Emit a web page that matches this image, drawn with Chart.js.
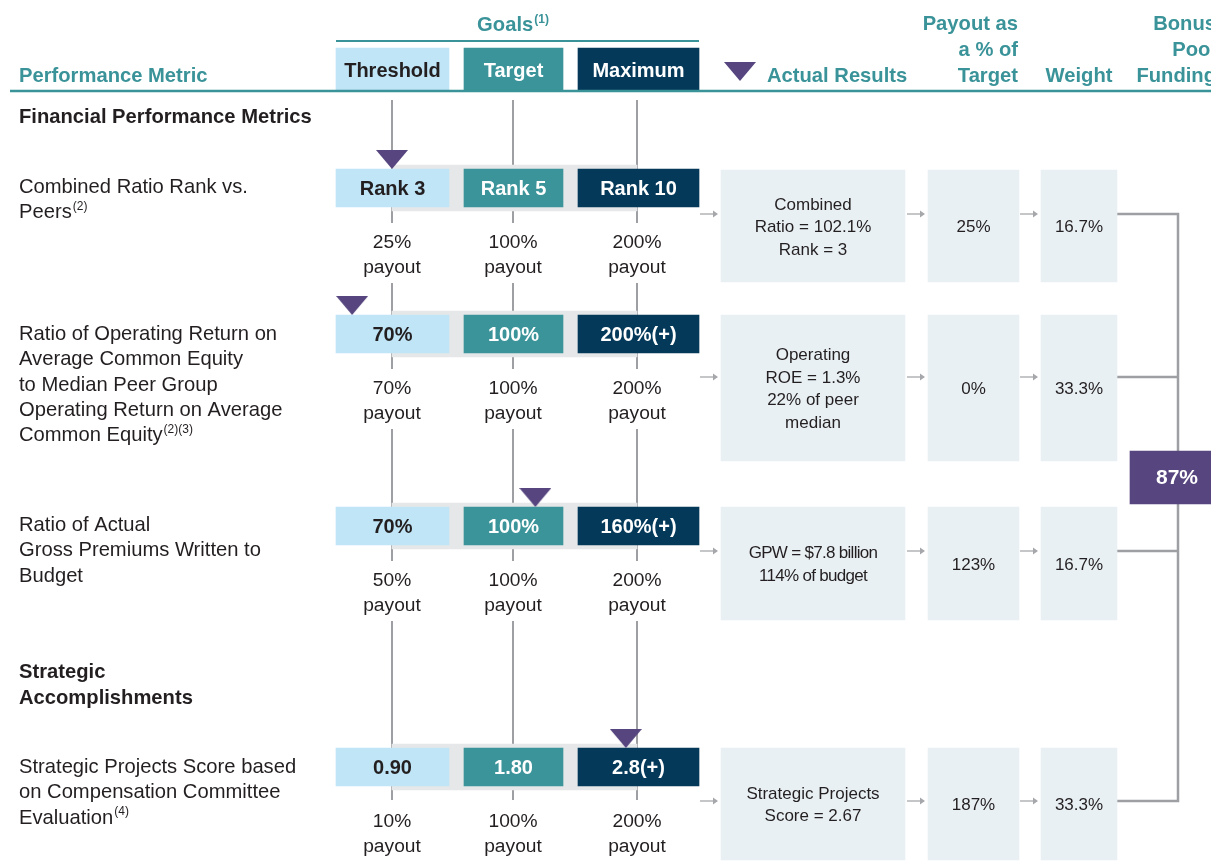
<!DOCTYPE html>
<html>
<head>
<meta charset="utf-8">
<script src="https://cdn.jsdelivr.net/npm/chart.js@4.4.1/dist/chart.umd.min.js"></script>
<style>
  body { margin: 0; background: #fff; }
  canvas { display: block; }
</style>
</head>
<body>
<canvas id="myChart" width="1211" height="862"></canvas>
<script>
// ---- data ----
const metricLabels = [
  ['Combined Ratio Rank vs.', 'Peers'],
  ['Ratio of Operating Return on', 'Average Common Equity', 'to Median Peer Group', 'Operating Return on Average', 'Common Equity'],
  ['Ratio of Actual', 'Gross Premiums Written to', 'Budget'],
  ['Strategic Projects Score based', 'on Compensation Committee', 'Evaluation']
];
const metricNotes = ['(2)', '(2)(3)', '', '(4)'];
const goalLevels = ['Threshold', 'Target', 'Maximum'];
const thresholdGoals = ['Rank 3', '70%', '70%', '0.90'];
const targetGoals = ['Rank 5', '100%', '100%', '1.80'];
const maximumGoals = ['Rank 10', '200%(+)', '160%(+)', '2.8(+)'];
const thresholdPayouts = [25, 70, 50, 10];
const targetPayouts = [100, 100, 100, 100];
const maximumPayouts = [200, 200, 200, 200];
const actualResults = [
  ['Combined', 'Ratio = 102.1%', 'Rank = 3'],
  ['Operating', 'ROE = 1.3%', '22% of peer', 'median'],
  ['GPW = $7.8 billion', '114% of budget'],
  ['Strategic Projects', 'Score = 2.67']
];
// where the actual result sits on the goal scale (0 = threshold, 1 = target, 2 = maximum)
const actualPosition = [0, -0.33, 1.18, 1.91];
const payoutPercent = [25, 0, 123, 187];
const weights = [16.7, 33.3, 16.7, 33.3];
const bonusPoolFunding = 87;

// ---- layout ----
const teal = '#3a9399';
const dark = '#231f20';
const purple = '#56457f';
const goalColors = ['#bfe5f6', '#3a9499', '#04395a'];
const goalTextColors = [dark, '#fff', '#fff'];
const goalCols = [[336, 449], [464, 563], [578, 699]];
const goalLines = [392, 513, 637];
const resultCols = [[721, 905], [928, 1019], [1041, 1117]];
const rowLayout = [
  { boxTop: 169, resTop: 170, resBottom: 282, arrowY: 214, labelY: 186 },
  { boxTop: 315, resTop: 315, resBottom: 461, arrowY: 377, labelY: 333 },
  { boxTop: 507, resTop: 507, resBottom: 620, arrowY: 551, labelY: 524 },
  { boxTop: 748, resTop: 748, resBottom: 860, arrowY: 801, labelY: 766 }
];
const FONT = '"Liberation Sans", Arial, sans-serif';
const TEXT_DY = 1.5;

function goalX(p) {
  if (p <= 1) return goalLines[0] + p * (goalLines[1] - goalLines[0]);
  return goalLines[1] + (p - 1) * (goalLines[2] - goalLines[1]);
}

// triangle marker
const tri = document.createElement('canvas');
tri.width = 32; tri.height = 19;
const tctx = tri.getContext('2d');
tctx.fillStyle = purple;
tctx.beginPath(); tctx.moveTo(0, 0); tctx.lineTo(32, 0); tctx.lineTo(16, 19); tctx.closePath(); tctx.fill();

const goalValues = [thresholdGoals, targetGoals, maximumGoals];
const payoutValues = [thresholdPayouts, targetPayouts, maximumPayouts];

const datasets = [];
datasets.push({
  type: 'scatter', label: 'actual', order: 0, showLine: false,
  data: actualPosition.map((p, i) => ({ x: goalX(p), y: rowLayout[i].boxTop - 9.5 })),
  pointStyle: tri, pointRadius: 10
});
datasets.push({
  label: 'bonus', order: 1, grouped: false, barThickness: 53, backgroundColor: purple,
  data: [{ x: [1130, 1211], y: 477.5 }]
});
goalLevels.forEach((lvl, j) => {
  datasets.push({
    label: lvl, order: 1, grouped: false, barThickness: 38, backgroundColor: goalColors[j],
    data: rowLayout.map(r => ({ x: goalCols[j], y: r.boxTop + 19 }))
  });
});
datasets.push({
  label: 'header', order: 1, grouped: false, barThickness: 43, backgroundColor: goalColors,
  data: goalCols.map(c => ({ x: c, y: 69.5 }))
});
rowLayout.forEach((r, i) => {
  datasets.push({
    label: 'results ' + i, order: 1, grouped: false, barThickness: r.resBottom - r.resTop,
    backgroundColor: '#e9f0f4',
    data: resultCols.map(c => ({ x: c, y: (r.resTop + r.resBottom) / 2 }))
  });
});
datasets.push({
  label: 'range', order: 2, grouped: false, barThickness: 46, backgroundColor: '#e6e7e8',
  data: rowLayout.map(r => ({ x: [goalLines[0], goalLines[2]], y: r.boxTop + 19 }))
});

function text(ctx, s, x, y, font, color, align) {
  ctx.font = font;
  ctx.fillStyle = color;
  ctx.textAlign = align || 'left';
  ctx.textBaseline = 'middle';
  ctx.fillText(s, x, y + TEXT_DY);
}

function arrow(ctx, x1, x2, y) {
  ctx.strokeStyle = '#a5a7aa';
  ctx.fillStyle = '#a5a7aa';
  ctx.lineWidth = 1.3;
  ctx.beginPath(); ctx.moveTo(x1, y); ctx.lineTo(x2 - 4, y); ctx.stroke();
  ctx.beginPath(); ctx.moveTo(x2, y); ctx.lineTo(x2 - 5, y - 3.5); ctx.lineTo(x2 - 5, y + 3.5); ctx.closePath(); ctx.fill();
}

const drawPlugin = {
  id: 'drawPlugin',
  beforeDatasetsDraw(chart) {
    const ctx = chart.ctx;
    const xs = chart.scales.x, ys = chart.scales.y;
    const X = v => xs.getPixelForValue(v), Y = v => ys.getPixelForValue(v);
    ctx.save();
    // goal guide lines, broken around payout text
    ctx.strokeStyle = '#9d9fa2';
    ctx.lineWidth = 2;
    const segs = [];
    let start = 100;
    rowLayout.forEach((r, i) => {
      const bottom = r.boxTop + 38;
      if (i < rowLayout.length - 1) {
        segs.push([start, bottom + 16]);
        start = bottom + 76;
      } else {
        segs.push([start, bottom + 14]);
      }
    });
    goalLines.forEach(gx => {
      segs.forEach(s => {
        ctx.beginPath(); ctx.moveTo(X(gx), Y(s[0])); ctx.lineTo(X(gx), Y(s[1])); ctx.stroke();
      });
    });
    // bracket to bonus pool
    ctx.lineWidth = 2.5;
    ctx.beginPath();
    rowLayout.forEach(r => {
      ctx.moveTo(X(1117), Y(r.arrowY)); ctx.lineTo(X(1178), Y(r.arrowY));
    });
    ctx.moveTo(X(1178), Y(rowLayout[0].arrowY - 1.2));
    ctx.lineTo(X(1178), Y(rowLayout[3].arrowY + 1.2));
    ctx.stroke();
    ctx.restore();
  },
  afterDatasetsDraw(chart) {
    const ctx = chart.ctx;
    const xs = chart.scales.x, ys = chart.scales.y;
    const X = v => xs.getPixelForValue(v), Y = v => ys.getPixelForValue(v);
    ctx.save();
    // header rules
    ctx.strokeStyle = teal;
    ctx.lineWidth = 2.5;
    ctx.beginPath(); ctx.moveTo(X(10), Y(91)); ctx.lineTo(X(1211), Y(91)); ctx.stroke();
    ctx.lineWidth = 2;
    ctx.beginPath(); ctx.moveTo(X(336), Y(41)); ctx.lineTo(X(699), Y(41)); ctx.stroke();

    const hb = 'bold 20.2px ' + FONT;
    // Goals(1)
    ctx.font = hb;
    const gw = ctx.measureText('Goals').width;
    ctx.font = 'bold 12px ' + FONT;
    const nw = ctx.measureText('(1)').width;
    const gx0 = X(513) - (gw + nw + 1) / 2;
    text(ctx, 'Goals', gx0, Y(24), hb, teal);
    text(ctx, '(1)', gx0 + gw + 1, Y(18), 'bold 12px ' + FONT, teal);

    text(ctx, 'Performance Metric', X(19), Y(75), hb, teal);
    goalLevels.forEach((lvl, j) => {
      text(ctx, lvl, X((goalCols[j][0] + goalCols[j][1]) / 2), Y(70), 'bold 20px ' + FONT, goalTextColors[j], 'center');
    });
    ctx.drawImage(tri, X(724), Y(62));
    text(ctx, 'Actual Results', X(767), Y(75), hb, teal);
    ['Payout as', 'a % of', 'Target'].forEach((s, k) => text(ctx, s, X(1018), Y(23 + 26 * k), hb, teal, 'right'));
    text(ctx, 'Weight', X(1079), Y(75), hb, teal, 'center');
    ['Bonus', 'Pool', 'Funding'].forEach((s, k) => text(ctx, s, X(1216), Y(23 + 26 * k), hb, teal, 'right'));

    // section headings
    text(ctx, 'Financial Performance Metrics', X(19), Y(116), 'bold 20.2px ' + FONT, dark);
    text(ctx, 'Strategic', X(19), Y(671), 'bold 20.2px ' + FONT, dark);
    text(ctx, 'Accomplishments', X(19), Y(697), 'bold 20.2px ' + FONT, dark);

    const lf = '20.2px ' + FONT;
    rowLayout.forEach((r, i) => {
      // metric label
      metricLabels[i].forEach((s, k) => {
        const ly = r.labelY + k * 25.3;
        text(ctx, s, X(19), Y(ly), lf, dark);
        if (k === metricLabels[i].length - 1 && metricNotes[i]) {
          ctx.font = lf;
          const w = ctx.measureText(s).width;
          text(ctx, metricNotes[i], X(19) + w + 1, Y(ly - 6), '12px ' + FONT, dark);
        }
      });
      // goal boxes and payouts
      goalLevels.forEach((lvl, j) => {
        const cx = X((goalCols[j][0] + goalCols[j][1]) / 2);
        text(ctx, goalValues[j][i], cx, Y(r.boxTop + 18.5), 'bold 20px ' + FONT, goalTextColors[j], 'center');
        const py = r.boxTop + 38 + 34;
        text(ctx, payoutValues[j][i] + '%', X(goalLines[j]), Y(py), '19.2px ' + FONT, dark, 'center');
        text(ctx, 'payout', X(goalLines[j]), Y(py + 25.5), '19.2px ' + FONT, dark, 'center');
      });
      // results
      const cy = (r.resTop + r.resBottom) / 2;
      const lines = actualResults[i];
      const tight = i === 2;
      if (tight) ctx.letterSpacing = '-0.7px';
      lines.forEach((s, k) => {
        const ly = cy + (k - (lines.length - 1) / 2) * 22.5;
        text(ctx, s, X((resultCols[0][0] + resultCols[0][1]) / 2), Y(ly), '17px ' + FONT, dark, 'center');
      });
      ctx.letterSpacing = '0px';
      text(ctx, payoutPercent[i] + '%', X((resultCols[1][0] + resultCols[1][1]) / 2), Y(cy), '17px ' + FONT, dark, 'center');
      text(ctx, weights[i].toFixed(1) + '%', X((resultCols[2][0] + resultCols[2][1]) / 2), Y(cy), '17px ' + FONT, dark, 'center');
      // arrows
      arrow(ctx, X(700), X(718), Y(r.arrowY));
      arrow(ctx, X(907), X(925), Y(r.arrowY));
      arrow(ctx, X(1020), X(1038), Y(r.arrowY));
    });

    text(ctx, bonusPoolFunding + '%', X(1177), Y(477), 'bold 21px ' + FONT, '#fff', 'center');
    ctx.restore();
  }
};

const ctx = document.getElementById('myChart').getContext('2d');
const myChart = new Chart(ctx, {
  type: 'bar',
  data: { datasets: datasets },
  options: {
    indexAxis: 'y',
    responsive: false,
    animation: false,
    layout: { padding: 0, autoPadding: false },
    plugins: { legend: { display: false }, tooltip: { enabled: false } },
    scales: {
      x: { type: 'linear', min: 0, max: 1211, offset: false, display: false },
      y: { type: 'linear', min: 0, max: 862, reverse: true, offset: false, display: false }
    }
  },
  plugins: [drawPlugin]
});
</script>
</body>
</html>
